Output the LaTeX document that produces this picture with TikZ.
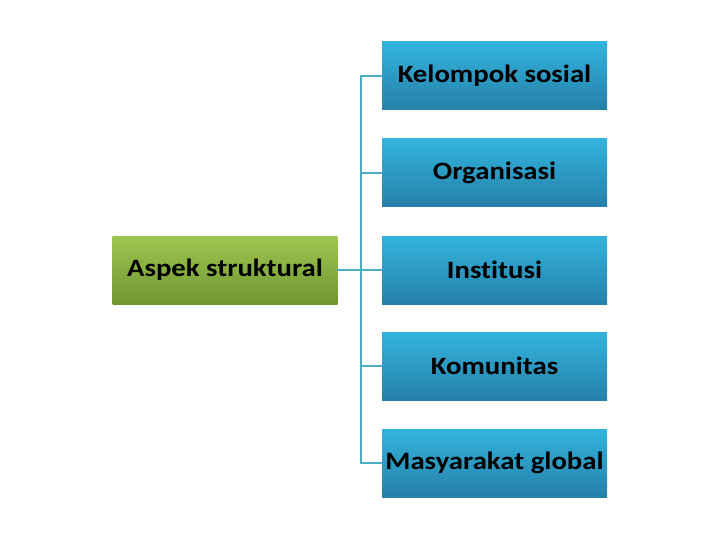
\documentclass[tikz,border=0pt]{standalone}
\usepackage{fontspec}
\setmainfont[FakeStretch=1.15,Ligatures=NoCommon]{Carlito}
\usetikzlibrary{calc}
\definecolor{garis}{RGB}{75,172,198}
\tikzset{
  kotak/.style={minimum width=225pt,minimum height=68pt,inner sep=0pt,
    font=\fontsize{25}{30}\selectfont\bfseries,text=black},
  biru/.style={kotak,top color={rgb,255:red,50;green,180;blue,222},bottom color={rgb,255:red,38;green,128;blue,168}},
  hijau/.style={kotak,top color={rgb,255:red,158;green,198;blue,78},bottom color={rgb,255:red,112;green,150;blue,52}},
  garisan/.style={draw=garis,line width=2.5pt}
}
\begin{document}
\begin{tikzpicture}[line cap=round,line join=round,x=1pt,y=-1pt]
	\useasboundingbox (0,0) rectangle (720,540);
	% kotak kiri
	\node[hijau] (aspek) at (225,270) {Aspek struktural};
	% kotak kanan
	\node[biru] (kelompok) at (494.5,76) {Kelompok sosial};
	\node[biru] (organisasi) at (494.5,173) {Organisasi};
	\node[biru] (institusi) at (494.5,270) {Institusi};
	\node[biru] (komunitas) at (494.5,366) {Komunitas};
	\node[biru] (masyarakat) at (494.5,463) {Masyarakat global};
	% garis penghubung
	\coordinate (cabang) at (361,270);
	\draw[garisan] (aspek.east) -- (aspek.east -| cabang);
	\draw[garisan] (cabang |- kelompok.west) -- (cabang |- masyarakat.west);
	\foreach \k in {kelompok,organisasi,institusi,komunitas,masyarakat}
		\draw[garisan] (cabang |- \k.west) -- (\k.west);
\end{tikzpicture}
\end{document}
